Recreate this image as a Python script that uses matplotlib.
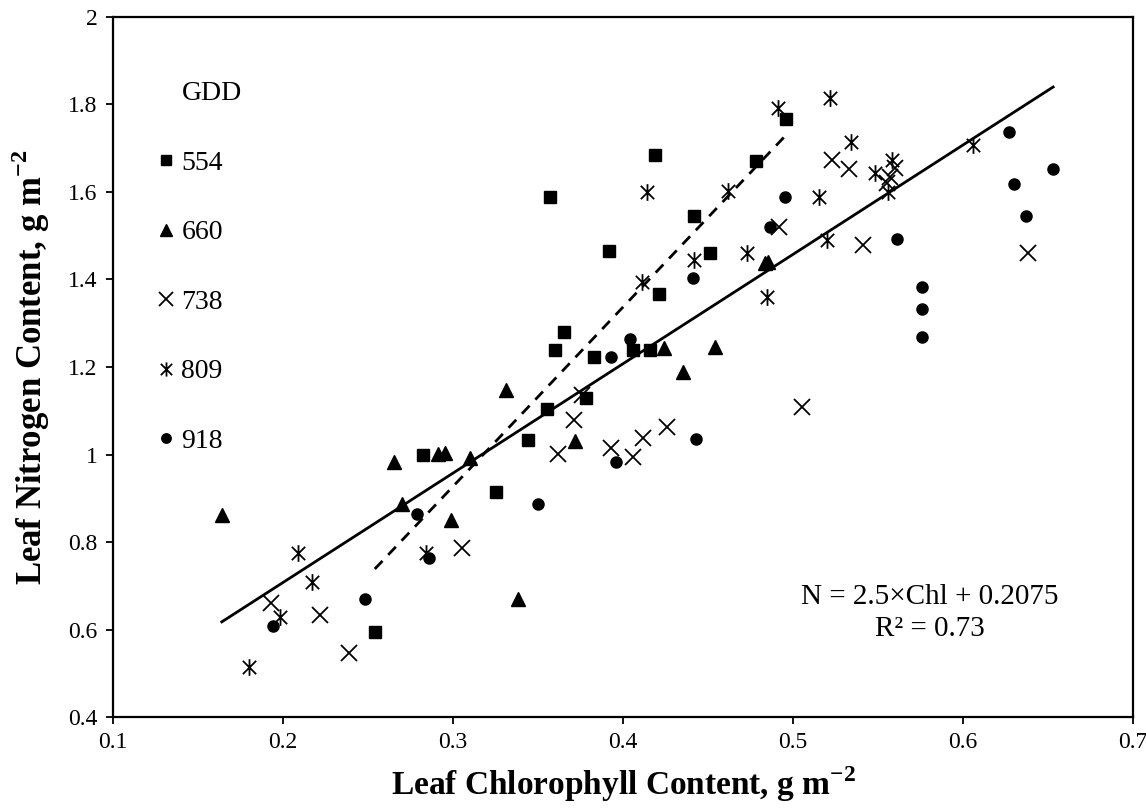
import numpy as np
import matplotlib
matplotlib.use("Agg")
import matplotlib.pyplot as plt
from matplotlib.path import Path
from matplotlib.lines import Line2D
from matplotlib.ticker import FuncFormatter

plt.rcParams['font.family'] = ['Liberation Serif', 'DejaVu Serif']
plt.rcParams['mathtext.fontset'] = 'custom'
plt.rcParams['mathtext.rm'] = 'Liberation Serif'
plt.rcParams['mathtext.bf'] = 'Liberation Serif:bold'

# GDD groups, (chlorophyll, nitrogen)
chl_554 = [0.254, 0.2825, 0.325, 0.344, 0.355, 0.357, 0.360, 0.365, 0.378, 0.383,
           0.392, 0.406, 0.416, 0.419, 0.421, 0.442, 0.451, 0.478, 0.496]
n_554 = [0.595, 0.999, 0.915, 1.033, 1.103, 1.588, 1.240, 1.281, 1.130, 1.224,
         1.464, 1.239, 1.240, 1.685, 1.366, 1.544, 1.461, 1.671, 1.766]

chl_660 = [0.164, 0.265, 0.270, 0.291, 0.295, 0.299, 0.310, 0.331, 0.338, 0.372,
           0.424, 0.435, 0.454, 0.4835, 0.4855]
n_660 = [0.862, 0.984, 0.888, 1.001, 1.003, 0.850, 0.991, 1.147, 0.669, 1.031,
         1.243, 1.189, 1.246, 1.437, 1.441]

chl_738 = [0.193, 0.222, 0.239, 0.305, 0.362, 0.371, 0.376, 0.393, 0.406, 0.412,
           0.426, 0.492, 0.505, 0.523, 0.533, 0.541, 0.555, 0.557, 0.560, 0.638]
n_738 = [0.660, 0.633, 0.547, 0.786, 1.001, 1.080, 1.136, 1.014, 0.994, 1.037,
         1.064, 1.521, 1.109, 1.672, 1.652, 1.479, 1.620, 1.635, 1.654, 1.461]

chl_809 = [0.180, 0.198, 0.209, 0.217, 0.284, 0.411, 0.414, 0.442, 0.462, 0.473,
           0.4845, 0.491, 0.515, 0.520, 0.522, 0.534, 0.548, 0.556, 0.558, 0.606]
n_809 = [0.514, 0.629, 0.774, 0.709, 0.774, 1.395, 1.601, 1.445, 1.602, 1.460,
         1.361, 1.791, 1.588, 1.490, 1.814, 1.715, 1.643, 1.601, 1.673, 1.707]

chl_918 = [0.194, 0.248, 0.279, 0.286, 0.350, 0.393, 0.396, 0.404, 0.441, 0.443,
           0.4865, 0.495, 0.561, 0.576, 0.576, 0.576, 0.627, 0.630, 0.637, 0.653]
n_918 = [0.608, 0.669, 0.864, 0.763, 0.887, 1.224, 0.984, 1.263, 1.404, 1.035,
         1.521, 1.588, 1.493, 1.382, 1.332, 1.268, 1.738, 1.618, 1.544, 1.652]

# regression lines: all data (solid), 554 GDD (dashed)
fit_all = (2.5, 0.2075)
fit_554 = (4.1, -0.303)

x_ticks = [0.1, 0.2, 0.3, 0.4, 0.5, 0.6, 0.7]
y_ticks = [0.4, 0.6, 0.8, 1.0, 1.2, 1.4, 1.6, 1.8, 2.0]

# six-armed asterisk used for 809 GDD
star = Path([(0, -1), (0, 1), (-0.8, -0.8), (0.8, 0.8), (-0.8, 0.8), (0.8, -0.8)],
            [Path.MOVETO, Path.LINETO] * 3)

fig = plt.figure(figsize=(11.46, 8.09), dpi=100)
ax = fig.add_axes([0.0986, 0.1137, 0.8901, 0.8653])

groups = [
    ("554", chl_554, n_554, dict(marker='s', ms=9, mfc='black', mec='black')),
    ("660", chl_660, n_660, dict(marker='^', ms=10, mfc='black', mec='black')),
    ("738", chl_738, n_738, dict(marker='x', ms=12, mec='black', mew=1.3)),
    ("809", chl_809, n_809, dict(marker=star, ms=12, mec='black', mew=1.3)),
    ("918", chl_918, n_918, dict(marker='o', ms=8, mfc='black', mec='black')),
]
for name, xs, ys, st in groups:
    ax.plot(xs, ys, linestyle='none', **st)

all_x = np.concatenate([chl_554, chl_660, chl_738, chl_809, chl_918])
xl = np.array([all_x.min(), all_x.max()])
ax.plot(xl, fit_all[0] * xl + fit_all[1], color='black', lw=2)

xd = np.array([min(chl_554), max(chl_554)])
ax.plot(xd, fit_554[0] * xd + fit_554[1], color='black', lw=2, linestyle=(0, (4, 3)))

ax.set_xlim(0.1, 0.7)
ax.set_ylim(0.4, 2.0)
ax.set_xticks(x_ticks)
ax.set_yticks(y_ticks)
ax.xaxis.set_major_formatter(FuncFormatter(lambda v, p: '%g' % v))
ax.yaxis.set_major_formatter(FuncFormatter(lambda v, p: '%g' % v))
ax.tick_params(direction='out', length=5, width=1.3, labelsize=17, pad=6)
for sp in ax.spines.values():
    sp.set_linewidth(1.6)

ax.set_xlabel(r'Leaf Chlorophyll Content, g m$^{\mathbf{-2}}$', fontsize=24,
              fontweight='bold', labelpad=8)
ax.set_ylabel(r'Leaf Nitrogen Content, g m$^{\mathbf{-2}}$', fontsize=25,
              fontweight='bold', labelpad=12)

# legend with GDD heading as first (empty) entry
handles = [Line2D([], [], linestyle='none', marker='')]
labels = ['GDD']
for name, xs, ys, st in groups:
    st2 = dict(st)
    st2['ms'] = st['ms'] * 0.85
    handles.append(Line2D([], [], linestyle='none', **st2))
    labels.append(name)
ax.legend(handles, labels, loc='upper left', bbox_to_anchor=(0.029, 0.929),
          frameon=False, fontsize=20, handlelength=0.7, handletextpad=0.2,
          labelspacing=1.59, borderpad=0)

ax.text(0.801, 0.149, 'N = 2.5\u00d7Chl + 0.2075\nR\u00b2 = 0.73', transform=ax.transAxes,
        ha='center', va='center', fontsize=21, linespacing=1.3)

fig.savefig('out.png', dpi=100)
